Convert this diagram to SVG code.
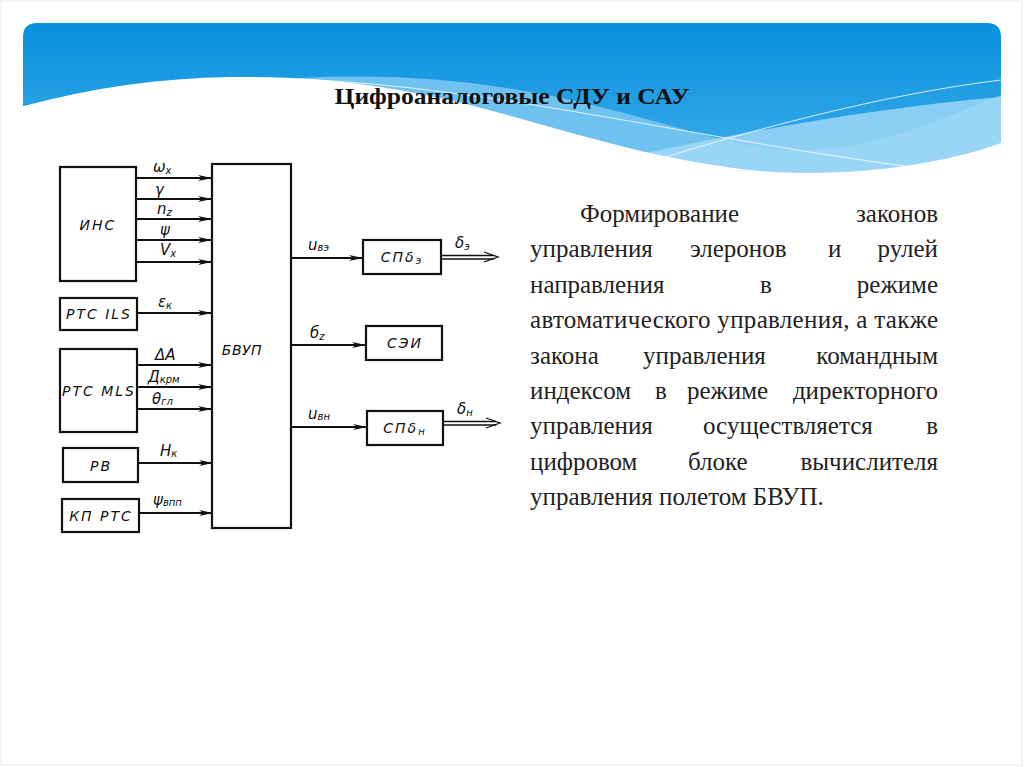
<svg xmlns="http://www.w3.org/2000/svg" width="1024" height="767" viewBox="0 0 1024 767">
<defs>
<linearGradient id="hdr" x1="0" y1="0" x2="0" y2="1">
<stop offset="0" stop-color="#0790dd"/>
<stop offset="1" stop-color="#48b2ec"/>
</linearGradient>
<clipPath id="hclip"><path d="M23,37 Q23,23 37,23 L987,23 Q1001,23 1001,37 L1001,200 L23,200 Z"/></clipPath>
<marker id="arr" viewBox="0 0 14 8" markerWidth="14" markerHeight="8" refX="14" refY="4" orient="auto" markerUnits="userSpaceOnUse">
<path d="M0,1 L14,4 L0,7 L4,4 Z" fill="#111"/>
</marker>
<style>
.box{fill:#fff;stroke:#111;stroke-width:2.2}
.ln{stroke:#111;stroke-width:2.2;fill:none}
.lbl{font-family:"DejaVu Sans",sans-serif;font-style:italic;font-size:15px;fill:#111}
.sub{font-size:10px}
.bt{font-family:"DejaVu Sans",sans-serif;font-style:italic;font-size:14px;letter-spacing:2px;fill:#111;text-anchor:middle}
.body text{font-family:"Liberation Serif","Times New Roman",serif;font-size:25px;fill:#222}
.r{text-anchor:end}
</style>
</defs>
<rect x="0" y="0" width="1024" height="767" fill="#fff"/>
<rect x="1" y="1" width="1021" height="764" fill="none" stroke="#efefef" stroke-width="1.5"/>
<g id="header" clip-path="url(#hclip)">
<rect x="23" y="23" width="978" height="177" fill="url(#hdr)"/>
<path d="M300,78 C450,70 560,95 650,120 C720,140 760,150 800,150 C880,150 950,115 1001,95 L1001,200 L300,200 Z" fill="#6fc2f0"/>
<path d="M560,172 C700,140 850,110 1001,97 L1001,200 L560,200 Z" fill="#a3d9f7" opacity="0.8"/>
<path d="M20,107 C90,88 160,78 230,77 C330,76 400,88 470,105 C560,128 650,160 760,171 C850,178 940,165 1001,143 L1005,143 L1005,205 L20,205 Z" fill="#fff"/>
<path d="M300,79 C500,88 700,140 920,168" fill="none" stroke="#fff" stroke-width="1" opacity="0.8"/>
<path d="M630,168 C750,130 880,95 1001,80" fill="none" stroke="#fff" stroke-width="1" opacity="0.8"/>
</g>
<text x="512" y="104" text-anchor="middle" font-family="Liberation Serif, serif" font-weight="bold" font-size="24" textLength="355" lengthAdjust="spacingAndGlyphs" fill="#111">Цифроаналоговые СДУ и САУ</text>

<g id="connectors">
<line class="ln" x1="136" y1="178" x2="212" y2="178" marker-end="url(#arr)"/>
<line class="ln" x1="136" y1="199" x2="212" y2="199" marker-end="url(#arr)"/>
<line class="ln" x1="136" y1="219" x2="212" y2="219" marker-end="url(#arr)"/>
<line class="ln" x1="136" y1="240" x2="212" y2="240" marker-end="url(#arr)"/>
<line class="ln" x1="136" y1="262" x2="212" y2="262" marker-end="url(#arr)"/>
<line class="ln" x1="137" y1="313" x2="212" y2="313" marker-end="url(#arr)"/>
<line class="ln" x1="137" y1="365" x2="212" y2="365" marker-end="url(#arr)"/>
<line class="ln" x1="137" y1="387" x2="212" y2="387" marker-end="url(#arr)"/>
<line class="ln" x1="137" y1="409" x2="212" y2="409" marker-end="url(#arr)"/>
<line class="ln" x1="138" y1="463" x2="213" y2="463" marker-end="url(#arr)"/>
<line class="ln" x1="139" y1="513" x2="213" y2="513" marker-end="url(#arr)"/>
<line class="ln" x1="291" y1="258" x2="363" y2="258" marker-end="url(#arr)"/>
<line class="ln" x1="291" y1="345" x2="366" y2="345" marker-end="url(#arr)"/>
<line class="ln" x1="291" y1="427" x2="367" y2="427" marker-end="url(#arr)"/>
<g stroke="#111" stroke-width="1.3" fill="none">
<line x1="441" y1="255.5" x2="494" y2="255.5"/>
<line x1="441" y1="259" x2="494" y2="259"/>
<polyline points="484,252 498,257 484,262"/>
<line x1="443" y1="421.5" x2="496" y2="421.5"/>
<line x1="443" y1="425" x2="496" y2="425"/>
<polyline points="486,418 500,423 486,428"/>
</g>
<text class="lbl" x="153" y="172">ω<tspan class="sub" dy="2">x</tspan></text>
<text class="lbl" x="155" y="195">γ</text>
<text class="lbl" x="157" y="214">n<tspan class="sub" dy="2">z</tspan></text>
<text class="lbl" x="160" y="235">ψ</text>
<text class="lbl" x="160" y="255">V<tspan class="sub" dy="2">x</tspan></text>
<text class="lbl" x="158" y="307">ε<tspan class="sub" dy="2">к</tspan></text>
<text class="lbl" x="155" y="360">ΔA</text>
<text class="lbl" x="148" y="382">Д<tspan class="sub" dy="1">крм</tspan></text>
<text class="lbl" x="152" y="404">θ<tspan class="sub" dy="1">гл</tspan></text>
<text class="lbl" x="160" y="456">H<tspan class="sub" dy="1">к</tspan></text>
<text class="lbl" x="153" y="505">ψ<tspan class="sub" dy="1">впп</tspan></text>
<text class="lbl" x="308" y="250">u<tspan class="sub" dy="1">вэ</tspan></text>
<text class="lbl" x="310" y="338">б<tspan class="sub" dy="2">z</tspan></text>
<text class="lbl" x="308" y="419">u<tspan class="sub" dy="1">вн</tspan></text>
<text class="lbl" x="455" y="248">δ<tspan class="sub" dy="2">э</tspan></text>
<text class="lbl" x="457" y="414">δ<tspan class="sub" dy="2">н</tspan></text>
</g>

<g id="ins"><rect class="box" x="60" y="167" width="76" height="114"/><text class="bt" x="98" y="230">ИНС</text></g>
<g id="rts-ils"><rect class="box" x="60" y="298" width="77" height="32"/><text class="bt" x="99" y="319">РТС ILS</text></g>
<g id="rts-mls"><rect class="box" x="60" y="349" width="77" height="83"/><text class="bt" x="99" y="396">РТС MLS</text></g>
<g id="rv"><rect class="box" x="63" y="448" width="75" height="34"/><text class="bt" x="101" y="471">РВ</text></g>
<g id="kp-rts"><rect class="box" x="62" y="499" width="77" height="33"/><text class="bt" x="101" y="521">КП РТС</text></g>
<g id="bvup"><rect class="box" x="212" y="164" width="79" height="364"/><text class="bt" x="242" y="355" style="letter-spacing:0.5px">БВУП</text></g>
<g id="sp-de"><rect class="box" x="363" y="240" width="78" height="34"/><text class="bt" x="402" y="262">СПδ<tspan class="sub" dy="2">э</tspan></text></g>
<g id="sei"><rect class="box" x="366" y="326" width="76" height="34"/><text class="bt" x="405" y="348">СЭИ</text></g>
<g id="sp-dn"><rect class="box" x="367" y="411" width="76" height="34"/><text class="bt" x="405" y="433">СПδ<tspan class="sub" dy="2">н</tspan></text></g>

<g id="body-text" class="body" font-family="Liberation Serif, serif">
<text x="580" y="222">Формирование</text><text class="r" x="938" y="222">законов</text>
<text x="530" y="257.4">управления</text><text x="690" y="257.4">элеронов</text><text x="828" y="257.4">и</text><text class="r" x="938" y="257.4">рулей</text>
<text x="530" y="292.8">направления</text><text x="760" y="292.8">в</text><text class="r" x="938" y="292.8">режиме</text>
<text x="530" y="328.2" textLength="408" lengthAdjust="spacing">автоматического управления, а также</text>
<text x="530" y="363.6">закона</text><text x="643" y="363.6">управления</text><text class="r" x="938" y="363.6">командным</text>
<text x="530" y="399">индексом</text><text x="655" y="399">в</text><text x="687" y="399">режиме</text><text class="r" x="938" y="399">директорного</text>
<text x="530" y="434.4">управления</text><text x="703" y="434.4">осуществляется</text><text class="r" x="938" y="434.4">в</text>
<text x="530" y="469.8">цифровом</text><text x="688" y="469.8">блоке</text><text class="r" x="938" y="469.8">вычислителя</text>
<text x="530" y="505.2">управления полетом БВУП.</text>
</g>
</svg>
